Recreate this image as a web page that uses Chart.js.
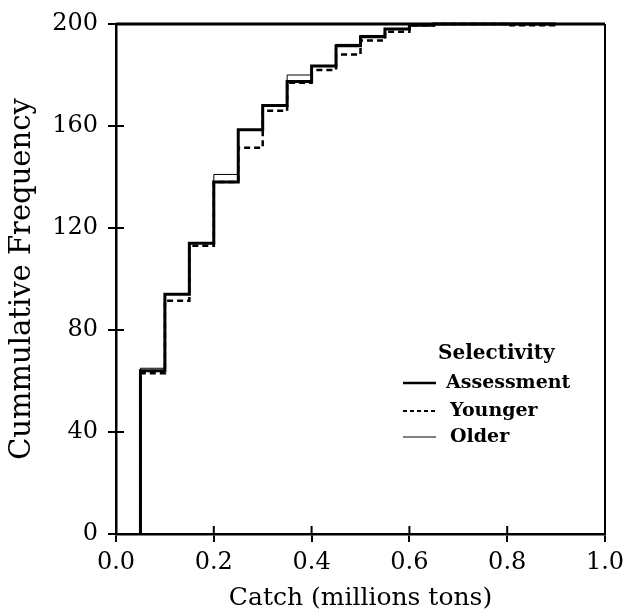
<!DOCTYPE html>
<html>
<head>
<meta charset="utf-8">
<script src="https://cdn.jsdelivr.net/npm/chart.js@4.4.1/dist/chart.umd.min.js"></script>
<style>
  html, body { margin: 0; padding: 0; background: #ffffff; }
  #wrap { width: 631px; height: 615px; }
</style>
</head>
<body>
<div id="wrap"><canvas id="c" width="631" height="615"></canvas></div>
<script>
// Upper edge of each catch interval (millions tons); first entry is the start of the curve
const catchEdges = [0.05, 0.10, 0.15, 0.20, 0.25, 0.30, 0.35, 0.40, 0.45, 0.50, 0.55, 0.60, 0.65, 0.70, 0.75, 0.80, 0.85, 0.90];
// Cumulative frequency reached in the interval ending at each edge
const assessment = [0, 64, 94, 114, 138, 158.5, 168, 177.5, 183.5, 191.5, 195, 198, 199.5, 200, 200, 200, 200, 200];
const younger    = [0, 63, 91.5, 113, 138, 151.5, 166, 177, 182, 188, 193.5, 197, 199.5, 200, 200, 200, 199.5, 199.5];
const older      = [0, 65, 94, 114, 141, 158.5, 168, 180, 183.5, 192, 195.5, 198, 199.5, 200, 200, 200, 200, 200];

const xTicks = [0.0, 0.2, 0.4, 0.6, 0.8, 1.0];
const yTicks = [0, 40, 80, 120, 160, 200];

const seriesNames = ['Assessment', 'Younger', 'Older'];
const legendTitle = 'Selectivity';
const xTitle = 'Catch (millions tons)';
const yTitle = 'Cummulative Frequency';

const FONT = "'DejaVu Serif', 'Liberation Serif', serif";

function pts(vals) { return catchEdges.map((x, i) => ({ x: x, y: vals[i] })); }

const styles = [
  { borderWidth: 3, borderDash: [] },
  { borderWidth: 2.5, borderDash: [6, 4] },
  { borderWidth: 1, borderDash: [] }
];

const series = [assessment, younger, older];

const framePlugin = {
  id: 'frame',
  afterDraw(chart) {
    const ctx = chart.ctx;
    const a = chart.chartArea;
    const xs = chart.scales.x, ys = chart.scales.y;
    ctx.save();
    ctx.strokeStyle = '#000';
    // top and right frame lines
    ctx.lineWidth = 3;
    ctx.beginPath();
    ctx.moveTo(a.left, a.top); ctx.lineTo(a.right, a.top);
    ctx.stroke();
    ctx.lineWidth = 2;
    ctx.beginPath();
    ctx.moveTo(a.right, a.top); ctx.lineTo(a.right, a.bottom);
    ctx.stroke();
    // inward tick marks
    ctx.lineWidth = 2;
    ctx.beginPath();
    xTicks.forEach(v => {
      const px = xs.getPixelForValue(v);
      ctx.moveTo(px, a.bottom); ctx.lineTo(px, a.bottom - 8);
    });
    yTicks.forEach(v => {
      if (v === 200) return;
      const py = ys.getPixelForValue(v);
      ctx.moveTo(a.left, py); ctx.lineTo(a.left + 8, py);
    });
    ctx.stroke();

    // legend
    const lx = 403, lx2 = 436, tx = 446;
    const rows = [383, 411, 437];
    ctx.fillStyle = '#000';
    ctx.textBaseline = 'middle';
    ctx.font = "bold 20px " + FONT;
    ctx.textAlign = 'left';
    ctx.fillText(legendTitle, 438, 354);
    ctx.font = "bold 19px " + FONT;
    seriesNames.forEach((n, i) => {
      ctx.lineWidth = i === 0 ? 2.5 : (i === 1 ? 2 : 1);
      ctx.setLineDash(i === 1 ? [4, 3] : []);
      ctx.beginPath();
      ctx.moveTo(lx, rows[i]); ctx.lineTo(lx2, rows[i]);
      ctx.stroke();
      ctx.setLineDash([]);
      ctx.fillText(n, tx + (i === 0 ? 0 : 4), rows[i]);
    });
    ctx.restore();
  }
};

new Chart(document.getElementById('c'), {
  type: 'line',
  data: {
    datasets: series.map((vals, i) => ({
      label: seriesNames[i],
      data: pts(vals),
      stepped: 'after',
      borderColor: '#000',
      backgroundColor: '#000',
      borderWidth: styles[i].borderWidth,
      borderDash: styles[i].borderDash,
      pointRadius: 0,
      fill: false,
      clip: false
    }))
  },
  options: {
    responsive: false,
    animation: false,
    events: [],
    layout: { padding: { top: 24, right: 26, left: 0, bottom: 0 } },
    plugins: { legend: { display: false }, tooltip: { enabled: false } },
    scales: {
      x: {
        type: 'linear',
        min: 0, max: 1,
        afterBuildTicks(s) { s.ticks = xTicks.map(v => ({ value: v })); },
        afterFit(s) { s.height = 81; s.paddingLeft = 0; s.paddingRight = 0; },
        ticks: {
          color: '#000',
          font: { family: FONT, size: 24 },
          padding: 6,
          maxRotation: 0,
          callback: v => Number(v).toFixed(1)
        },
        grid: { drawOnChartArea: false, drawTicks: true, tickLength: 8, color: '#000', lineWidth: 2 },
        border: { display: true, color: '#000', width: 2.5 },
        title: {
          display: true, text: xTitle, color: '#000',
          font: { family: FONT, size: 25 },
          padding: { top: 0, bottom: 2 }
        }
      },
      y: {
        type: 'linear',
        min: 0, max: 200,
        afterBuildTicks(s) { s.ticks = yTicks.map(v => ({ value: v })); },
        afterFit(s) { s.width = 116; s.paddingTop = 0; s.paddingBottom = 0; },
        ticks: {
          color: '#000',
          font: { family: FONT, size: 24 },
          padding: 10,
          callback: v => String(v)
        },
        grid: { drawOnChartArea: false, drawTicks: true, tickLength: 8, color: '#000', lineWidth: 2 },
        border: { display: true, color: '#000', width: 2.5 },
        title: {
          display: true, text: yTitle, color: '#000',
          font: { family: FONT, size: 29 },
          padding: { top: 5, bottom: 0 }
        }
      }
    }
  },
  plugins: [framePlugin]
});
</script>
</body>
</html>
